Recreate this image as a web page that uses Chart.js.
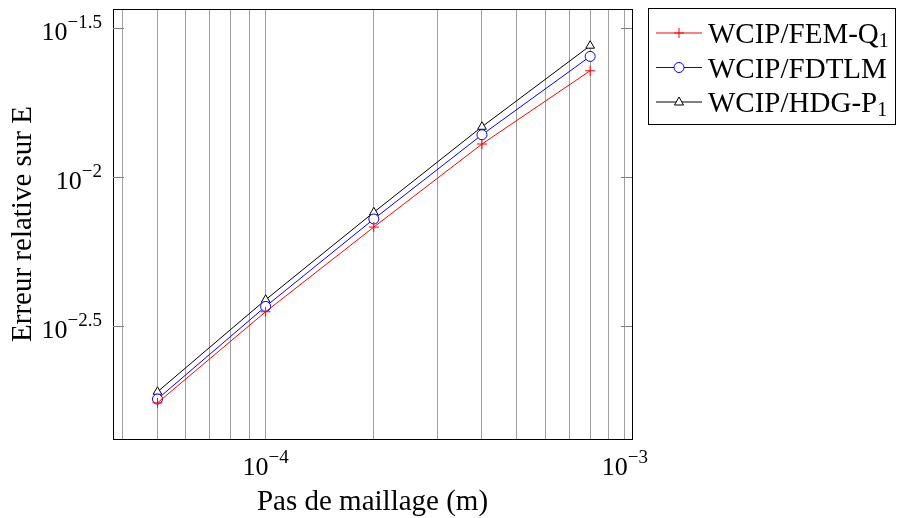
<!DOCTYPE html>
<html>
<head>
<meta charset="utf-8">
<script src="https://cdn.jsdelivr.net/npm/chart.js@4.4.0/dist/chart.umd.min.js"></script>
<style>
  html, body { margin: 0; padding: 0; background: #fff; }
  #wrap { width: 897px; height: 518px; }
</style>
</head>
<body>
<div id="wrap"><canvas id="conv" width="897" height="518"></canvas></div>
<script>
// mesh step (m)
var steps = [5e-5, 1e-4, 2e-4, 4e-4, 8e-4];
// relative error on E
var femQ1 = [1.754e-3, 3.542e-3, 6.808e-3, 0.01292, 0.02274];
var fdtlm = [1.806e-3, 3.690e-3, 7.244e-3, 0.01388, 0.02540];
var hdgP1 = [1.910e-3, 3.886e-3, 7.630e-3, 0.01476, 0.02759];

var xGrid = [4e-5, 5e-5, 6e-5, 7e-5, 8e-5, 9e-5, 1e-4, 2e-4, 3e-4, 4e-4, 5e-4, 6e-4, 7e-4, 8e-4, 9e-4, 1e-3];
var xLabels = [[1e-4, '\u22124'], [1e-3, '\u22123']];
var yLabels = [[-1.5, '\u22121.5'], [-2, '\u22122'], [-2.5, '\u22122.5']];

var serif = '"Liberation Serif", "Times New Roman", serif';

function pts(ys) {
  return steps.map(function (x, i) { return { x: x, y: ys[i] }; });
}

var series = [
  { label: 'WCIP/FEM-Q', sub: '1', data: femQ1, color: '#ff0000', style: 'cross' },
  { label: 'WCIP/FDTLM', sub: '', data: fdtlm, color: '#0000ff', style: 'circle' },
  { label: 'WCIP/HDG-P', sub: '1', data: hdgP1, color: '#000000', style: 'triangle' }
];

function drawMarker(c, style, x, y, color) {
  c.save();
  c.strokeStyle = color;
  c.lineWidth = 1;
  c.beginPath();
  if (style === 'cross') {
    c.moveTo(x - 5, y); c.lineTo(x + 5, y);
    c.moveTo(x, y - 5); c.lineTo(x, y + 5);
  } else if (style === 'circle') {
    c.fillStyle = '#fff';
    c.arc(x, y, 5, 0, Math.PI * 2);
    c.fill();
  } else {
    c.fillStyle = '#fff';
    c.moveTo(x, y - 5); c.lineTo(x + 4.5, y + 3); c.lineTo(x - 4.5, y + 3); c.closePath();
    c.fill();
  }
  c.stroke();
  c.restore();
}

var decor = {
  id: 'decor',
  afterDraw: function (chart) {
    var c = chart.ctx, a = chart.chartArea;
    var xs = chart.scales.x, ys = chart.scales.y;
    c.save();
    // frame
    c.strokeStyle = '#000';
    c.lineWidth = 1;
    c.strokeRect(Math.round(a.left) + 0.5, Math.round(a.top) + 0.5,
      Math.round(a.right - a.left), Math.round(a.bottom - a.top));

    // y ticks (both sides) and labels
    c.strokeStyle = '#808080';
    c.fillStyle = '#000';
    c.textBaseline = 'alphabetic';
    yLabels.forEach(function (t) {
      var py = Math.round(ys.getPixelForValue(Math.pow(10, t[0]))) + 0.5;
      c.beginPath();
      c.moveTo(a.left, py); c.lineTo(a.left + 11, py);
      c.moveTo(a.right, py); c.lineTo(a.right - 11, py);
      c.stroke();
      c.font = '19px ' + serif;
      c.textAlign = 'right';
      var supW = c.measureText(t[1]).width;
      c.fillText(t[1], 102, py - 1);
      c.font = '26px ' + serif;
      c.fillText('10', 102 - supW, py + 11);
    });

    // x labels
    xLabels.forEach(function (t) {
      var px = xs.getPixelForValue(t[0]);
      c.font = '26px ' + serif;
      var w1 = c.measureText('10').width;
      c.font = '19px ' + serif;
      var w2 = c.measureText(t[1]).width;
      var x0 = px - (w1 + w2) / 2;
      c.textAlign = 'left';
      c.font = '26px ' + serif;
      c.fillText('10', x0, 475);
      c.font = '19px ' + serif;
      c.fillText(t[1], x0 + w1, 463);
    });

    // axis titles
    c.font = '29px ' + serif;
    c.textAlign = 'center';
    c.fillText('Pas de maillage (m)', (a.left + a.right) / 2, 510);
    c.save();
    c.translate(31, (a.top + a.bottom) / 2);
    c.rotate(-Math.PI / 2);
    c.fillText('Erreur relative sur E', 0, 0);
    c.restore();

    // legend
    c.strokeStyle = '#000';
    c.strokeRect(648.5, 8.5, 247, 116);
    series.forEach(function (s, i) {
      var ly = 33 + i * 34.5;
      c.strokeStyle = s.color;
      c.beginPath();
      c.moveTo(656, ly); c.lineTo(702, ly);
      c.stroke();
      drawMarker(c, s.style, 679, ly, s.color);
      c.fillStyle = '#000';
      c.textAlign = 'left';
      c.font = '29px ' + serif;
      c.fillText(s.label, 708, ly + 10);
      if (s.sub) {
        var w = c.measureText(s.label).width;
        c.font = '20px ' + serif;
        c.fillText(s.sub, 708 + w, ly + 14);
      }
    });
    c.restore();
  }
};

new Chart(document.getElementById('conv'), {
  type: 'line',
  data: {
    datasets: series.map(function (s) {
      return {
        label: s.label + s.sub,
        data: pts(s.data),
        borderColor: s.color,
        backgroundColor: s.style === 'cross' ? s.color : '#ffffff',
        borderWidth: 1,
        pointStyle: s.style,
        pointRadius: 5,
        pointBorderWidth: 1,
        pointBorderColor: s.color,
        tension: 0
      };
    })
  },
  options: {
    responsive: false,
    animation: false,
    devicePixelRatio: 1,
    layout: { padding: { left: 113, top: 9, right: 265, bottom: 79 } },
    plugins: { legend: { display: false }, tooltip: { enabled: false } },
    scales: {
      x: {
        type: 'logarithmic',
        min: 3.76e-5,
        max: 1.046e-3,
        afterBuildTicks: function (axis) {
          axis.ticks = xGrid.map(function (v) { return { value: v }; });
        },
        ticks: { display: false },
        grid: { color: '#a0a0a0', lineWidth: 1, drawTicks: false },
        border: { display: false }
      },
      y: {
        type: 'logarithmic',
        min: 1.327e-3,
        max: 0.03662,
        ticks: { display: false },
        grid: { display: false, drawTicks: false },
        border: { display: false }
      }
    }
  },
  plugins: [decor]
});
</script>
</body>
</html>
